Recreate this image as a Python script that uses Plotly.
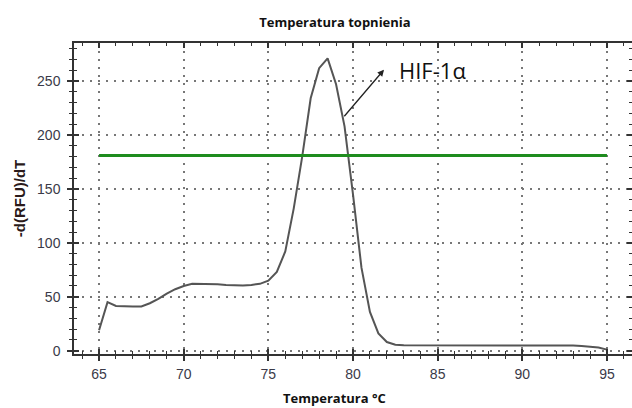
import plotly.graph_objects as go

# ---- data ----
temperature = [65.0, 65.5, 66.0, 66.5, 67.0, 67.5, 68.0, 68.5, 69.0, 69.5,
               70.0, 70.5, 71.0, 71.5, 72.0, 72.5, 73.0, 73.5, 74.0, 74.5,
               75.0, 75.5, 76.0, 76.5, 77.0, 77.5, 78.0, 78.5, 79.0, 79.5,
               80.0, 80.5, 81.0, 81.5, 82.0, 82.5, 83.0, 83.5, 84.0, 84.5,
               85.0, 85.5, 86.0, 86.5, 87.0, 87.5, 88.0, 88.5, 89.0, 89.5,
               90.0, 90.5, 91.0, 91.5, 92.0, 92.5, 93.0, 93.5, 94.0, 94.5,
               95.0]
melt_derivative = [19, 45, 41.5, 41, 41, 41, 44, 48, 53, 57,
                   60, 62, 62, 62, 61.5, 61, 60.5, 60.5, 61, 62,
                   65, 73, 92, 132, 180, 234, 262, 271, 247, 208,
                   145, 77, 36, 16, 8, 5.5, 5, 5, 5, 5,
                   5.2, 5, 5, 5, 4.8, 5, 5, 5, 5, 5,
                   4.8, 5, 5.2, 5.3, 5.3, 5, 4.8, 4.3, 3.8, 3,
                   1]
threshold_x = [65, 95]
threshold_y = [181, 181]

title_text = "Temperatura topnienia"
x_title = "Temperatura °C"
y_title = "-d(RFU)/dT"
peak_label = "HIF-1α"

x_range = [63.52, 96.48]
y_range = [-3.06, 285.3]

grid_color = "#777777"
axis_color = "#333333"
tick_font = dict(family="Liberation Sans, Arial, sans-serif", size=14, color="#3a3a48")

fig = go.Figure()
fig.add_trace(go.Scatter(x=temperature, y=melt_derivative, mode="lines",
                         line=dict(color="#555555", width=2),
                         showlegend=False, hoverinfo="x+y"))
fig.add_trace(go.Scatter(x=threshold_x, y=threshold_y, mode="lines",
                         line=dict(color="#1e8c1e", width=3),
                         showlegend=False, xaxis="x2", yaxis="y2"))

common_main = dict(showline=True, linecolor=axis_color, linewidth=1.5,
                   ticks="outside", ticklen=5, tickwidth=1.5, tickcolor=axis_color,
                   showgrid=True, gridcolor=grid_color, gridwidth=1.5,
                   griddash="2px,6px", zeroline=False, tickfont=tick_font)

fig.update_layout(
    width=632, height=408, autosize=False,
    margin=dict(l=74, r=0, t=43, b=54),
    paper_bgcolor="white", plot_bgcolor="white",
    title=dict(text=title_text, xref="container", x=0.53, xanchor="center",
               yref="container", y=0.944, yanchor="middle",
               font=dict(family="Open Sans, sans-serif", size=13, color="#111111",
                         weight="bold")),
    xaxis=dict(range=x_range, tick0=65, dtick=5, mirror=True,
               minor=dict(dtick=1, tick0=65, ticks="outside", ticklen=3,
                          tickwidth=1, tickcolor=axis_color, showgrid=False),
               ticklabelstandoff=1, **common_main),
    yaxis=dict(range=y_range, tick0=0, dtick=50, mirror=False,
               minor=dict(dtick=10, tick0=0, ticks="outside", ticklen=3,
                          tickwidth=1, tickcolor=axis_color, showgrid=False),
               ticklabelstandoff=4,
               title=dict(text=y_title, standoff=8,
                          font=dict(family="Liberation Sans, Arial, sans-serif",
                                    size=15, color="#2a1a1a", weight="bold")),
               **common_main),
    xaxis2=dict(range=x_range, overlaying="x", anchor="y2", tick0=65, dtick=5,
                ticks="inside", ticklen=5, tickwidth=1.5, tickcolor=axis_color,
                minor=dict(dtick=1, tick0=65, ticks="inside", ticklen=3,
                           tickwidth=1, tickcolor=axis_color, showgrid=False),
                mirror="ticks", showline=False, showgrid=False, zeroline=False,
                showticklabels=False),
    yaxis2=dict(range=y_range, overlaying="y", anchor="x2", side="left",
                tick0=0, dtick=50,
                ticks="inside", ticklen=5, tickwidth=1.5, tickcolor=axis_color,
                minor=dict(dtick=10, tick0=0, ticks="inside", ticklen=3,
                           tickwidth=1, tickcolor=axis_color, showgrid=False),
                mirror="ticks", showline=False, showgrid=False, zeroline=False,
                showticklabels=False),
)

fig.add_annotation(x=81.83, y=260.5, ax=79.41, ay=216, xref="x", yref="y",
                   axref="x", ayref="y", text="", showarrow=True,
                   arrowhead=2, arrowsize=1, arrowwidth=1.3, arrowcolor="#222222",
                   standoff=0, startstandoff=0)
fig.add_annotation(x=82.6, y=260.5, xref="x", yref="y", text=peak_label,
                   showarrow=False, xanchor="left", yanchor="middle",
                   font=dict(family="Open Sans, sans-serif", size=22, color="#111111"))
fig.add_annotation(x=0.4668, y=-0.14, xref="paper", yref="paper", text=x_title,
                   showarrow=False, xanchor="center", yanchor="middle",
                   font=dict(family="Open Sans, sans-serif", size=13, color="#111111",
                             weight="bold"))

fig.write_html("out.html")
